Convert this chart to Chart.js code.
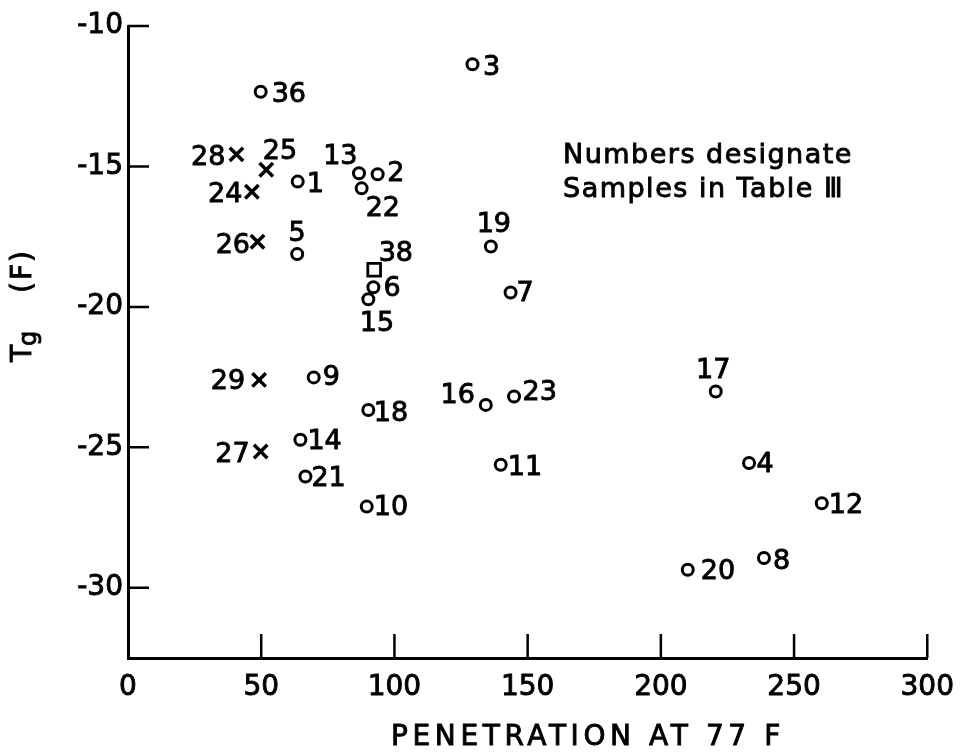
<!DOCTYPE html>
<html lang="en">
<head>
<meta charset="UTF-8">
<title>Tg vs penetration at 77 F</title>
<script src="https://cdn.jsdelivr.net/npm/chart.js@4"></script>
<style>
  html, body { margin: 0; padding: 0; background: #fff; }
  #wrap { width: 967px; height: 756px; }
</style>
</head>
<body>
<div id="wrap"><canvas id="chart" width="967" height="756"></canvas></div>
<script>
// Values (penetration at 77 F, Tg in F)
const circleIds = ['36', '1', '13', '2', '22', '5', '6', '15', '9', '18', '14', '21', '10',
                   '3', '19', '7', '16', '23', '11', '17', '4', '12', '8', '20'];
const circlePen = [49.8, 63.7, 86.7, 93.7, 87.7, 63.5, 92.1, 90.2, 69.7, 90.2, 64.7, 66.6, 89.6,
                   129.3, 136.2, 143.6, 134.3, 144.9, 139.9, 220.6, 233.1, 260.4, 238.7, 210.1];
const circleTg = [-12.34, -15.54, -15.24, -15.28, -15.78, -18.12, -19.30, -19.73, -22.51, -23.67, -24.73, -26.04, -27.11,
                  -11.36, -17.85, -19.49, -23.49, -23.19, -25.62, -23.01, -25.56, -26.99, -28.94, -29.36];

const crossIds = ['28', '25', '24', '26', '29', '27'];
const crossPen = [40.7, 51.9, 46.5, 48.6, 49.2, 49.8];
const crossTg = [-14.57, -15.12, -15.90, -17.68, -22.60, -25.15];

const squareIds = ['38'];
const squarePen = [92.4];
const squareTg = [-18.68];

const xTicks = [0, 50, 100, 150, 200, 250, 300];
const yTicks = [-30, -25, -20, -15, -10];

// where each sample number sits relative to its marker: [align, dx, dy]
const labelPlace = {
  '36': ['left', 11, 0], '1': ['left', 9, 1], '13': ['right', -1.5, -19], '2': ['left', 9.5, -3.5],
  '22': ['left', 4, 17.5], '5': ['center', 0, -23], '6': ['left', 10, -1.5], '15': ['center', 8.7, 21.5],
  '9': ['left', 9, -2.5], '18': ['left', 5.5, 1], '14': ['left', 7, -1], '21': ['left', 6, 0],
  '10': ['left', 7, -1], '3': ['left', 10.5, 1], '19': ['center', 3, -24], '7': ['left', 6, -1],
  '16': ['right', -11, -12], '23': ['left', 8.5, -6], '11': ['left', 7, 0], '17': ['center', -2.5, -23],
  '4': ['left', 7.5, -1], '12': ['left', 7, 0], '8': ['left', 9, 1], '20': ['left', 13, -1],
  '28': ['right', -11, 1], '25': ['left', -3.5, -21], '24': ['right', -9.5, 0], '26': ['right', -7.5, 1],
  '29': ['right', -14, -1], '27': ['right', -11, 1], '38': ['left', 4.5, -19]
};

const FONT = "'DejaVu Sans', sans-serif";

function points(xs, ys) {
  return xs.map((x, i) => ({ x: x, y: ys[i] }));
}

// fill + thin stroke so the lettering is as heavy as the original
function heavyText(ctx, text, x, y) {
  ctx.fillText(text, x, y);
  ctx.strokeText(text, x, y);
}

// sample numbers next to the markers
const pointLabels = {
  id: 'pointLabels',
  afterDatasetsDraw(chart) {
    const ctx = chart.ctx;
    ctx.save();
    ctx.fillStyle = '#000';
    ctx.strokeStyle = '#000';
    ctx.lineWidth = 0.9;
    ctx.font = '27px ' + FONT;
    ctx.textBaseline = 'alphabetic';
    chart.data.datasets.forEach((ds, di) => {
      const meta = chart.getDatasetMeta(di);
      meta.data.forEach((el, i) => {
        const id = ds.ids[i];
        const p = labelPlace[id] || ['left', 10, 0];
        ctx.textAlign = p[0];
        heavyText(ctx, id, el.x + p[1], el.y + p[2] + 9.8);
      });
    });
    ctx.restore();
  }
};

// inward tick marks, axis titles and the note
const decorations = {
  id: 'decorations',
  afterDraw(chart) {
    const ctx = chart.ctx;
    const xs = chart.scales.x;
    const ys = chart.scales.y;
    const area = chart.chartArea;
    ctx.save();
    ctx.strokeStyle = '#000';
    ctx.lineWidth = 2.5;
    ctx.beginPath();
    xTicks.forEach(v => {
      if (v === 0) return;
      const px = xs.getPixelForValue(v);
      ctx.moveTo(px, area.bottom);
      ctx.lineTo(px, area.bottom - 24);
    });
    yTicks.forEach(v => {
      const py = ys.getPixelForValue(v);
      ctx.moveTo(area.left, py);
      ctx.lineTo(area.left + 21, py);
    });
    ctx.stroke();

    ctx.fillStyle = '#000';
    ctx.lineWidth = 0.9;
    ctx.textBaseline = 'alphabetic';

    // x title
    ctx.font = '28px ' + FONT;
    ctx.letterSpacing = '4.6px';
    ctx.textAlign = 'center';
    heavyText(ctx, 'PENETRATION AT 77 F', 588, 745);

    // y title: T with subscript g, then (F)
    ctx.save();
    ctx.translate(31, 362);
    ctx.rotate(-Math.PI / 2);
    ctx.textAlign = 'left';
    ctx.letterSpacing = '0px';
    ctx.font = '28px ' + FONT;
    heavyText(ctx, 'T', 0, 0);
    const tw = ctx.measureText('T').width;
    ctx.font = '24px ' + FONT;
    heavyText(ctx, 'g', tw - 1, 5);
    ctx.font = '28px ' + FONT;
    ctx.letterSpacing = '2px';
    heavyText(ctx, '(F)', 69, 0);
    ctx.restore();

    // note
    ctx.font = '27px ' + FONT;
    ctx.letterSpacing = '1.5px';
    ctx.textAlign = 'left';
    heavyText(ctx, 'Numbers designate', 563, 163);
    heavyText(ctx, 'Samples in Table \u2162', 563, 197);
    ctx.restore();
  }
};

Chart.defaults.font.family = FONT;
Chart.defaults.color = '#000';

new Chart(document.getElementById('chart'), {
  type: 'scatter',
  data: {
    datasets: [
      {
        ids: circleIds,
        data: points(circlePen, circleTg),
        pointStyle: 'circle',
        pointRadius: 5.5,
        pointBorderWidth: 3,
        pointBorderColor: '#000',
        pointBackgroundColor: 'rgba(255,255,255,0)'
      },
      {
        ids: crossIds,
        data: points(crossPen, crossTg),
        pointStyle: 'crossRot',
        pointRadius: 9.5,
        pointBorderWidth: 3.5,
        pointBorderColor: '#000'
      },
      {
        ids: squareIds,
        data: points(squarePen, squareTg),
        pointStyle: 'rect',
        pointRadius: 9,
        pointBorderWidth: 2.8,
        pointBorderColor: '#000',
        pointBackgroundColor: 'rgba(255,255,255,0)'
      }
    ]
  },
  options: {
    responsive: false,
    animation: false,
    devicePixelRatio: 1,
    layout: { autoPadding: false, padding: { top: 26, right: 34, left: 0, bottom: 0 } },
    plugins: {
      legend: { display: false },
      tooltip: { enabled: false }
    },
    scales: {
      x: {
        type: 'linear',
        position: 'bottom',
        min: 0,
        max: 300,
        afterFit(scale) { scale.height = 98; },
        afterBuildTicks(scale) { scale.ticks = xTicks.map(v => ({ value: v })); },
        grid: { drawOnChartArea: false, drawTicks: false },
        border: { display: true, color: '#000', width: 3 },
        ticks: { font: { size: 28 }, color: '#000', padding: 13, maxRotation: 0, autoSkip: false,
                 textStrokeColor: '#000', textStrokeWidth: 0.9 }
      },
      y: {
        type: 'linear',
        position: 'left',
        min: -32.5,
        max: -10,
        afterFit(scale) { scale.width = 128; },
        afterBuildTicks(scale) { scale.ticks = yTicks.map(v => ({ value: v })); },
        grid: { drawOnChartArea: false, drawTicks: false },
        border: { display: true, color: '#000', width: 3 },
        ticks: { font: { size: 28 }, color: '#000', padding: 5, autoSkip: false,
                 textStrokeColor: '#000', textStrokeWidth: 0.9 }
      }
    }
  },
  plugins: [pointLabels, decorations]
});
</script>
</body>
</html>
